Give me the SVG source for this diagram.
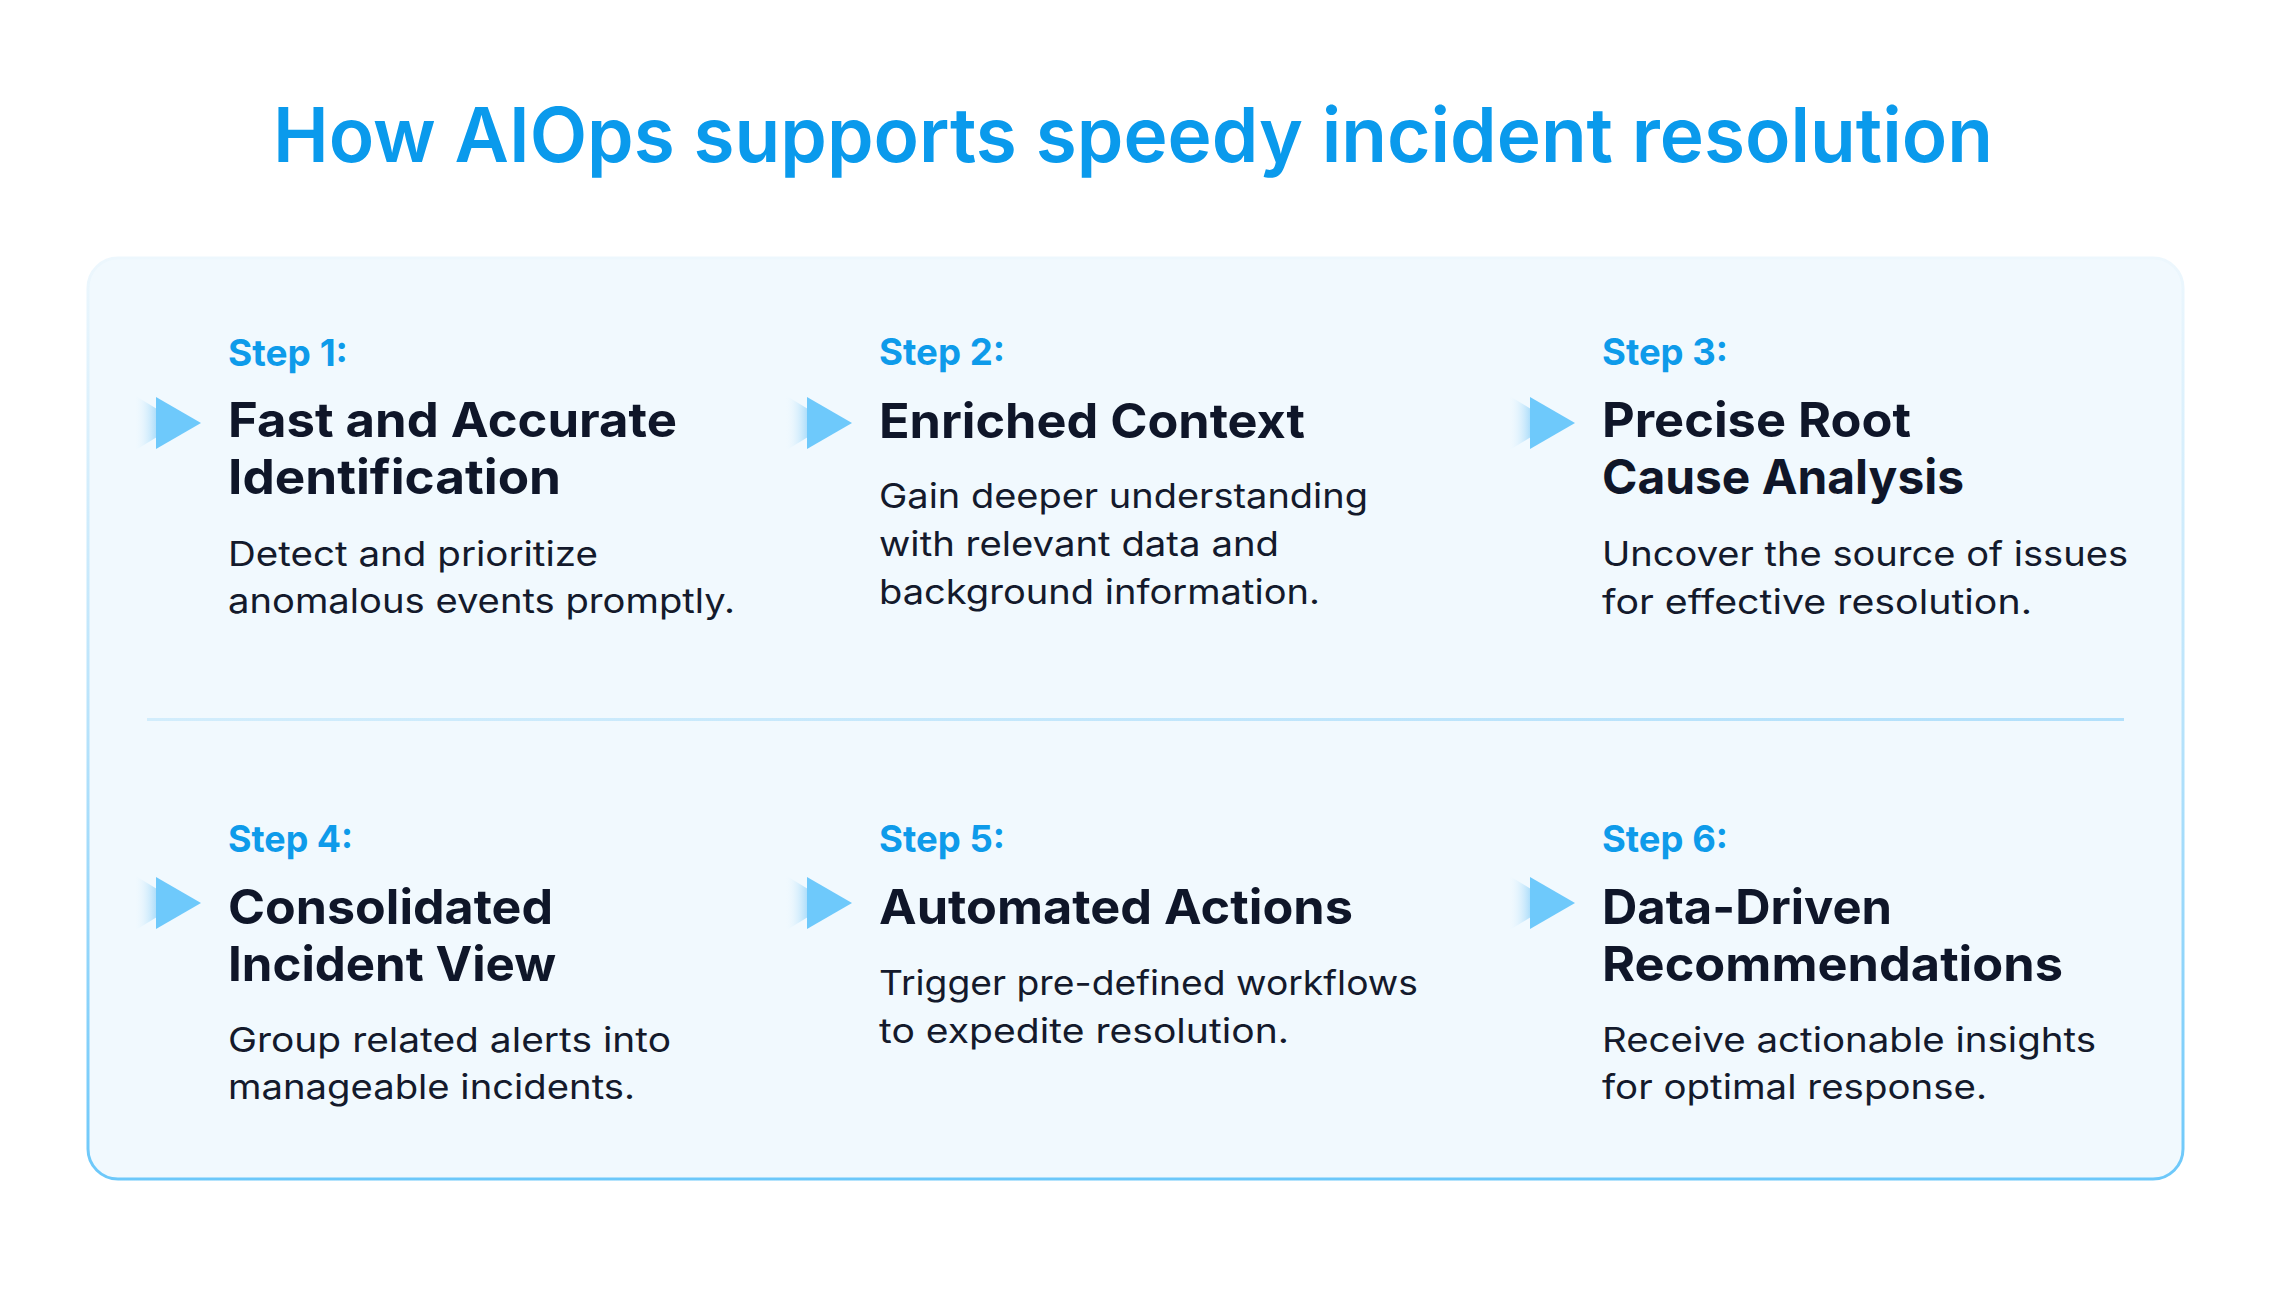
<svg xmlns="http://www.w3.org/2000/svg" width="2274" height="1290" viewBox="0 0 2274 1290">
  <defs>
    <style>
      .title { font-family: Inter, "Liberation Sans", sans-serif; font-weight: 600; font-size: 76px; fill: #0A9AEC; }
      .step { font-family: Inter, "Liberation Sans", sans-serif; font-weight: 700; font-size: 37px; fill: #0E9BEA; }
      .head { font-family: Inter, "Liberation Sans", sans-serif; font-weight: 700; font-size: 48px; fill: #0F1629; }
      .desc { font-family: Inter, "Liberation Sans", sans-serif; font-weight: 400; font-size: 34px; fill: #141A2C; }
    </style>
    <linearGradient id="borderGrad" x1="0" y1="0" x2="0" y2="1">
      <stop offset="0" stop-color="#EDF7FD"/>
      <stop offset="0.5" stop-color="#B8E3FB"/>
      <stop offset="1" stop-color="#6CC8FA"/>
    </linearGradient>
    <linearGradient id="divGrad" gradientUnits="userSpaceOnUse" x1="147" y1="0" x2="2124" y2="0">
      <stop offset="0" stop-color="#D2EDFC"/>
      <stop offset="1" stop-color="#B2E0FB"/>
    </linearGradient>
    <linearGradient id="ghostGrad" x1="0" y1="0" x2="1" y2="0">
      <stop offset="0" stop-color="#F1F9FE" stop-opacity="0"/>
      <stop offset="0.5" stop-color="#A9DCFA"/>
      <stop offset="1" stop-color="#A9DCFA"/>
    </linearGradient>
    <g id="tri">
      <polygon points="-22,-28 24,0 -22,28" fill="url(#ghostGrad)"/>
      <polygon points="0,-26 45,0 0,26" fill="#6EC9FB"/>
    </g>
  </defs>

  <rect width="2274" height="1290" fill="#FFFFFF"/>

  <text class="title" x="1133" y="162" text-anchor="middle" textLength="1720" lengthAdjust="spacingAndGlyphs">How AIOps supports speedy incident resolution</text>

  <g id="panel">
    <rect x="88" y="258" width="2095" height="921" rx="30" fill="#F1F9FE" stroke="url(#borderGrad)" stroke-width="3"/>
  </g>

  <g id="connectors">
    <rect x="147" y="718" width="1977" height="3" fill="url(#divGrad)"/>
  </g>

  <g id="step1">
    <use href="#tri" x="156" y="423"/>
    <text class="step" x="228" y="366" textLength="120" lengthAdjust="spacingAndGlyphs">Step 1:</text>
    <text class="head" x="228" y="437" textLength="449" lengthAdjust="spacingAndGlyphs">Fast and Accurate</text>
    <text class="head" x="228" y="494" textLength="333" lengthAdjust="spacingAndGlyphs">Identification</text>
    <text class="desc" x="228" y="566" textLength="370" lengthAdjust="spacingAndGlyphs">Detect and prioritize</text>
    <text class="desc" x="228" y="613" textLength="507" lengthAdjust="spacingAndGlyphs">anomalous events promptly.</text>
  </g>

  <g id="step2">
    <use href="#tri" x="807" y="423"/>
    <text class="step" x="879" y="365" textLength="126" lengthAdjust="spacingAndGlyphs">Step 2:</text>
    <text class="head" x="879" y="438" textLength="426" lengthAdjust="spacingAndGlyphs">Enriched Context</text>
    <text class="desc" x="879" y="508" textLength="489" lengthAdjust="spacingAndGlyphs">Gain deeper understanding</text>
    <text class="desc" x="879" y="556" textLength="400" lengthAdjust="spacingAndGlyphs">with relevant data and</text>
    <text class="desc" x="879" y="604" textLength="441" lengthAdjust="spacingAndGlyphs">background information.</text>
  </g>

  <g id="step3">
    <use href="#tri" x="1530" y="423"/>
    <text class="step" x="1602" y="365" textLength="126" lengthAdjust="spacingAndGlyphs">Step 3:</text>
    <text class="head" x="1602" y="437" textLength="309" lengthAdjust="spacingAndGlyphs">Precise Root</text>
    <text class="head" x="1602" y="494" textLength="362" lengthAdjust="spacingAndGlyphs">Cause Analysis</text>
    <text class="desc" x="1602" y="566" textLength="526" lengthAdjust="spacingAndGlyphs">Uncover the source of issues</text>
    <text class="desc" x="1602" y="614" textLength="430" lengthAdjust="spacingAndGlyphs">for effective resolution.</text>
  </g>

  <g id="step4">
    <use href="#tri" x="156" y="903"/>
    <text class="step" x="228" y="852" textLength="125" lengthAdjust="spacingAndGlyphs">Step 4:</text>
    <text class="head" x="228" y="924" textLength="325" lengthAdjust="spacingAndGlyphs">Consolidated</text>
    <text class="head" x="228" y="981" textLength="328" lengthAdjust="spacingAndGlyphs">Incident View</text>
    <text class="desc" x="228" y="1052" textLength="443" lengthAdjust="spacingAndGlyphs">Group related alerts into</text>
    <text class="desc" x="228" y="1099" textLength="407" lengthAdjust="spacingAndGlyphs">manageable incidents.</text>
  </g>

  <g id="step5">
    <use href="#tri" x="807" y="903"/>
    <text class="step" x="879" y="852" textLength="126" lengthAdjust="spacingAndGlyphs">Step 5:</text>
    <text class="head" x="879" y="924" textLength="474" lengthAdjust="spacingAndGlyphs">Automated Actions</text>
    <text class="desc" x="879" y="995" textLength="539" lengthAdjust="spacingAndGlyphs">Trigger pre-defined workflows</text>
    <text class="desc" x="879" y="1043" textLength="410" lengthAdjust="spacingAndGlyphs">to expedite resolution.</text>
  </g>

  <g id="step6">
    <use href="#tri" x="1530" y="903"/>
    <text class="step" x="1602" y="852" textLength="126" lengthAdjust="spacingAndGlyphs">Step 6:</text>
    <text class="head" x="1602" y="924" textLength="290" lengthAdjust="spacingAndGlyphs">Data-Driven</text>
    <text class="head" x="1602" y="981" textLength="461" lengthAdjust="spacingAndGlyphs">Recommendations</text>
    <text class="desc" x="1602" y="1052" textLength="494" lengthAdjust="spacingAndGlyphs">Receive actionable insights</text>
    <text class="desc" x="1602" y="1099" textLength="385" lengthAdjust="spacingAndGlyphs">for optimal response.</text>
  </g>
</svg>
